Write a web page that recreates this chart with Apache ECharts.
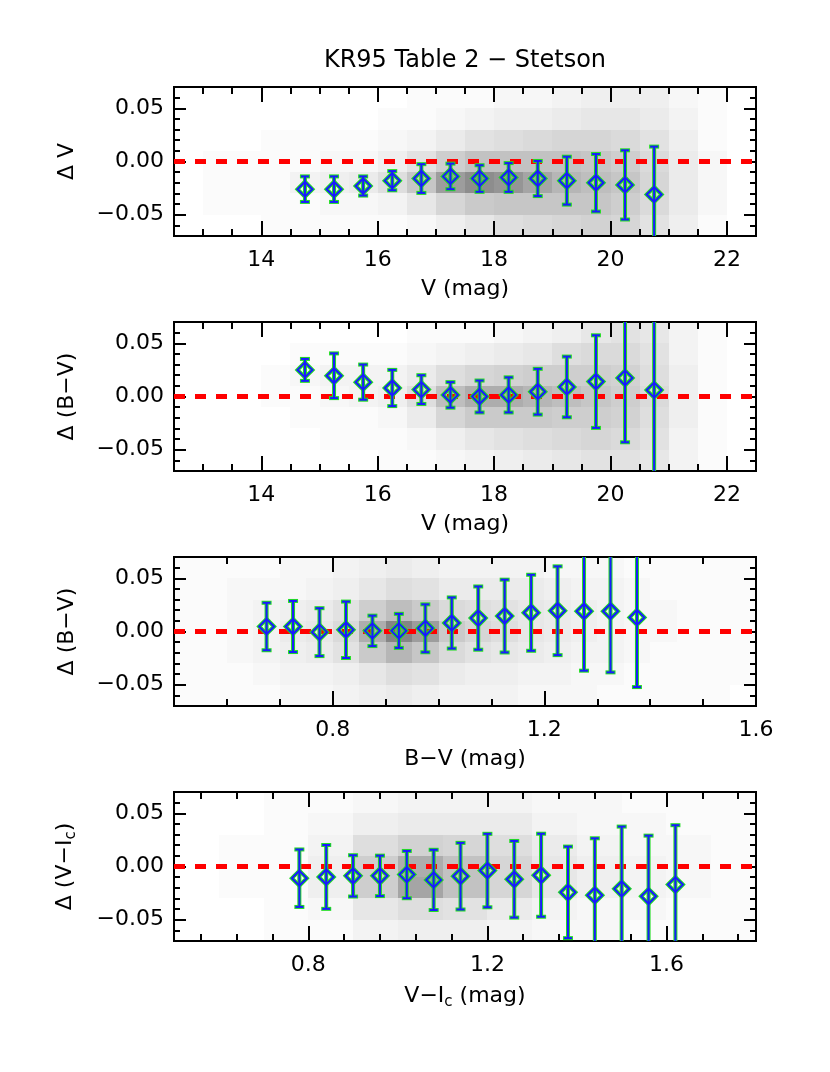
<!DOCTYPE html>
<html>
<head>
<meta charset="utf-8">
<script src="https://cdn.jsdelivr.net/npm/echarts@6/dist/echarts.min.js"></script>
<style>
html, body { margin: 0; padding: 0; background: #fff; }
#chart { width: 830px; height: 1072px; }
</style>
</head>
<body>
<div id="chart"></div>
<script>
// ---- binned means (diamonds) and half error bars ----
const vBins = [14.75, 15.25, 15.75, 16.25, 16.75, 17.25, 17.75, 18.25, 18.75, 19.25, 19.75, 20.25, 20.75];
const dVMean = [-0.026, -0.026, -0.023, -0.018, -0.016, -0.014, -0.016, -0.015, -0.016, -0.018, -0.020, -0.022, -0.031];
const dVErr = [0.012, 0.012, 0.009, 0.009, 0.0135, 0.012, 0.0125, 0.0135, 0.0165, 0.0225, 0.027, 0.0325, 0.045];

const dBVMeanByV = [0.025, 0.0195, 0.0135, 0.008, 0.0065, 0.0015, 0.000, 0.0015, 0.0045, 0.009, 0.014, 0.0175, 0.006];
const dBVErrByV = [0.0103, 0.021, 0.0165, 0.017, 0.0135, 0.012, 0.015, 0.0165, 0.0215, 0.0285, 0.0435, 0.0605, 0.09];

const bvBins = [0.675, 0.725, 0.775, 0.825, 0.875, 0.925, 0.975, 1.025, 1.075, 1.125, 1.175, 1.225, 1.275, 1.325, 1.375];
const dBVMean = [0.0047, 0.0047, -0.0006, 0.0016, 0.0006, 0.0006, 0.003, 0.008, 0.0126, 0.0145, 0.0176, 0.0195, 0.019, 0.019, 0.0132];
const dBVErr = [0.0223, 0.024, 0.0225, 0.0265, 0.0143, 0.016, 0.0225, 0.024, 0.0297, 0.0342, 0.0357, 0.0417, 0.0558, 0.0574, 0.0654];

const viBins = [0.78, 0.84, 0.90, 0.96, 1.02, 1.08, 1.14, 1.20, 1.26, 1.32, 1.38, 1.44, 1.50, 1.56, 1.62];
const dVIMean = [-0.011, -0.0098, -0.0088, -0.0088, -0.0076, -0.0126, -0.0091, -0.0038, -0.012, -0.0082, -0.0243, -0.027, -0.021, -0.028, -0.017];
const dVIErr = [0.027, 0.030, 0.0194, 0.019, 0.0222, 0.0283, 0.0313, 0.0345, 0.036, 0.039, 0.043, 0.0535, 0.0585, 0.057, 0.0558];

// ---- star cloud, estimated as % of area covered by dots per cell ----
const cloudRowEdges = [0.07, 0.05, 0.03, 0.01, -0.01, -0.03, -0.05, -0.07];
const cloudVEdges = [12.5, 13, 13.5, 14, 14.5, 15, 15.5, 16, 16.5, 17, 17.5, 18, 18.5, 19, 19.5, 20, 20.5, 21, 21.5, 22, 22.5];
const cloudDV = [
  [0, 0, 0, 0, 0, 0, 0, 0, 1, 1, 1, 2, 2, 3, 4, 4, 4, 2, 1, 0],
  [0, 0, 0, 0, 0, 0, 0, 1, 1, 2, 3, 4, 4, 5, 6, 6, 5, 3, 1, 0],
  [0, 0, 0, 1, 1, 1, 1, 2, 3, 5, 7, 8, 9, 10, 10, 9, 7, 4, 1, 0],
  [0, 1, 1, 1, 1, 2, 2, 4, 7, 12, 15, 15, 15, 15, 14, 12, 9, 5, 2, 0],
  [0, 1, 1, 1, 3, 4, 5, 8, 14, 24, 28, 26, 22, 18, 16, 14, 10, 5, 2, 0],
  [0, 1, 1, 1, 1, 2, 2, 3, 6, 10, 13, 14, 14, 14, 14, 12, 9, 5, 2, 0],
  [0, 0, 0, 1, 1, 1, 1, 1, 2, 4, 6, 8, 9, 10, 11, 10, 7, 4, 1, 0]
];
const cloudDBVByV = [
  [0, 0, 0, 0, 0, 0, 0, 0, 1, 1, 1, 2, 3, 4, 6, 7, 6, 3, 1, 0],
  [0, 0, 0, 0, 1, 1, 1, 1, 2, 3, 4, 5, 6, 8, 9, 9, 7, 3, 1, 0],
  [0, 0, 0, 1, 2, 3, 3, 3, 5, 8, 10, 11, 12, 12, 12, 11, 8, 4, 1, 0],
  [0, 0, 0, 1, 1, 2, 3, 4, 8, 16, 20, 20, 18, 16, 14, 12, 9, 4, 1, 0],
  [0, 0, 0, 0, 1, 1, 1, 2, 5, 10, 13, 13, 13, 12, 12, 11, 8, 4, 1, 0],
  [0, 0, 0, 0, 0, 1, 1, 1, 2, 4, 6, 7, 8, 9, 10, 9, 7, 3, 1, 0],
  [0, 0, 0, 0, 0, 0, 0, 1, 1, 2, 3, 4, 5, 6, 7, 7, 6, 3, 1, 0]
];
const cloudBVEdges = [0.5, 0.55, 0.6, 0.65, 0.7, 0.75, 0.8, 0.85, 0.9, 0.95, 1.0, 1.05, 1.1, 1.15, 1.2, 1.25, 1.3, 1.35, 1.4, 1.45, 1.5, 1.55, 1.6];
const cloudDBV = [
  [1, 1, 1, 1, 2, 2, 3, 4, 5, 4, 3, 3, 3, 3, 2, 2, 2, 1, 1, 1, 1, 1],
  [1, 1, 2, 2, 2, 3, 4, 6, 8, 7, 5, 5, 5, 5, 4, 3, 3, 2, 1, 1, 1, 1],
  [1, 1, 2, 3, 4, 5, 7, 12, 16, 13, 9, 8, 7, 6, 5, 4, 3, 2, 2, 1, 1, 1],
  [1, 1, 2, 3, 5, 6, 9, 20, 30, 24, 13, 10, 8, 6, 5, 4, 3, 2, 2, 1, 1, 1],
  [1, 1, 2, 3, 4, 5, 7, 13, 18, 14, 9, 7, 6, 5, 4, 3, 3, 2, 1, 1, 1, 1],
  [1, 1, 1, 2, 3, 3, 4, 6, 8, 7, 5, 4, 4, 3, 3, 2, 2, 1, 1, 1, 1, 1],
  [1, 1, 1, 1, 2, 2, 3, 4, 5, 4, 3, 3, 3, 2, 2, 2, 1, 1, 1, 1, 1, 0]
];
const cloudVIEdges = [0.5, 0.6, 0.7, 0.8, 0.9, 1.0, 1.1, 1.2, 1.3, 1.4, 1.5, 1.6, 1.7, 1.8];
const cloudDVI = [
  [0, 0, 1, 1, 2, 3, 3, 3, 2, 2, 1, 1, 1],
  [0, 0, 1, 2, 4, 5, 5, 5, 3, 2, 2, 1, 1],
  [0, 1, 1, 3, 8, 11, 10, 8, 5, 3, 2, 2, 1],
  [0, 1, 1, 4, 12, 20, 15, 10, 6, 4, 3, 2, 1],
  [0, 1, 1, 4, 12, 22, 15, 10, 6, 4, 3, 2, 1],
  [0, 0, 1, 2, 6, 8, 7, 5, 3, 2, 2, 1, 1],
  [0, 0, 1, 1, 3, 4, 4, 3, 2, 2, 1, 1, 1]
];

// ---- axis ranges and ticks ----
const vRange = [12.5, 22.5];
const vMajor = [14, 16, 18, 20, 22];
const vMinor = [13, 13.5, 14.5, 15, 15.5, 16.5, 17, 17.5, 18.5, 19, 19.5, 20.5, 21, 21.5];
const bvRange = [0.5, 1.6];
const bvMajor = [0.8, 1.2, 1.6];
const bvMinor = [0.6, 0.7, 0.9, 1.0, 1.1, 1.3, 1.4, 1.5];
const viRange = [0.5, 1.8];
const viMajor = [0.8, 1.2, 1.6];
const viMinor = [0.56, 0.64, 0.72, 0.88, 0.96, 1.04, 1.12, 1.28, 1.36, 1.44, 1.52, 1.68, 1.76];
const dRange = [-0.07, 0.07];
const dMajor = [-0.05, 0, 0.05];
const dMinor = [-0.06, -0.04, -0.03, -0.02, -0.01, 0.01, 0.02, 0.03, 0.04, 0.06];

const FONT = 'DejaVu Sans';
const GREEN = '#22dd22';
const BLUE = '#1a1aff';
const CLOUD_GAIN = 1.6; // dots look darker than their raw coverage

const panels = [
  { bins: vBins, mean: dVMean, err: dVErr, cloud: cloudDV, cloudX: cloudVEdges,
    xRange: vRange, xMajor: vMajor, xMinor: vMinor, xDec: 0,
    xName: 'V (mag)', yName: 'Δ V' },
  { bins: vBins, mean: dBVMeanByV, err: dBVErrByV, cloud: cloudDBVByV, cloudX: cloudVEdges,
    xRange: vRange, xMajor: vMajor, xMinor: vMinor, xDec: 0,
    xName: 'V (mag)', yName: 'Δ (B−V)' },
  { bins: bvBins, mean: dBVMean, err: dBVErr, cloud: cloudDBV, cloudX: cloudBVEdges,
    xRange: bvRange, xMajor: bvMajor, xMinor: bvMinor, xDec: 1,
    xName: 'B−V (mag)', yName: 'Δ (B−V)' },
  { bins: viBins, mean: dVIMean, err: dVIErr, cloud: cloudDVI, cloudX: cloudVIEdges,
    xRange: viRange, xMajor: viMajor, xMinor: viMinor, xDec: 1,
    xName: '{n|V−I}{sub|c}{n| (mag)}', yName: '{n|Δ (V−I}{sub|c}{n|)}' }
];

const nameStyle = {
  color: '#000', fontSize: 22, fontFamily: FONT,
  rich: {
    n: { fontSize: 22, fontFamily: FONT, color: '#000', lineHeight: 26 },
    sub: { fontSize: 15, fontFamily: FONT, color: '#000', lineHeight: 26, padding: [12, 0, 0, 0] }
  }
};

function axis(gi, pos, range, ticks, len, label, extra) {
  return Object.assign({
    gridIndex: gi, type: 'value', position: pos, min: range[0], max: range[1],
    splitLine: { show: false },
    axisLine: { show: true, onZero: false, lineStyle: { color: '#000', width: 2 } },
    axisTick: { show: true, inside: true, length: len, customValues: ticks, lineStyle: { color: '#000', width: 2 } },
    axisLabel: label || { show: false }
  }, extra || {});
}

const grids = [], xAxes = [], yAxes = [], series = [];
panels.forEach((p, i) => {
  grids.push({ left: 174, width: 582, top: 87 + 235 * i, height: 149, outerBoundsMode: 'none' });
  const xLab = {
    show: true, customValues: p.xMajor, margin: 13, color: '#000', fontSize: 22, fontFamily: FONT,
    formatter: (v) => v.toFixed(p.xDec)
  };
  const yLab = {
    show: true, customValues: dMajor, margin: 10, color: '#000', fontSize: 22, fontFamily: FONT,
    formatter: (v) => (v < -1e-9 ? '\u2212' : '') + Math.abs(v).toFixed(2)
  };
  xAxes.push(axis(i, 'bottom', p.xRange, p.xMajor, 15, xLab,
    { name: p.xName, nameLocation: 'middle', nameGap: 42, nameTextStyle: nameStyle }));
  xAxes.push(axis(i, 'bottom', p.xRange, p.xMinor, 7));
  xAxes.push(axis(i, 'top', p.xRange, p.xMajor, 15));
  xAxes.push(axis(i, 'top', p.xRange, p.xMinor, 7));
  yAxes.push(axis(i, 'left', dRange, dMajor, 12, yLab,
    { name: p.yName, nameLocation: 'middle', nameGap: 96, nameTextStyle: nameStyle }));
  yAxes.push(axis(i, 'left', dRange, dMinor, 6));
  yAxes.push(axis(i, 'right', dRange, dMajor, 12));
  yAxes.push(axis(i, 'right', dRange, dMinor, 6));

  // star cloud cells
  const cells = [];
  p.cloud.forEach((row, r) => {
    row.forEach((pct, c) => {
      if (pct > 0) cells.push([p.cloudX[c], p.cloudX[c + 1], cloudRowEdges[r], cloudRowEdges[r + 1], pct]);
    });
  });
  series.push({
    type: 'custom', xAxisIndex: 4 * i, yAxisIndex: 4 * i, silent: true, clip: true, z: 1,
    data: cells,
    renderItem: (params, api) => {
      const a = api.coord([api.value(0), api.value(2)]);
      const b = api.coord([api.value(1), api.value(3)]);
      const x0 = Math.round(a[0]), y0 = Math.round(a[1]);
      const x1 = Math.round(b[0]), y1 = Math.round(b[1]);
      const alpha = Math.min(0.6, api.value(4) / 100 * CLOUD_GAIN);
      return {
        type: 'rect', shape: { x: x0, y: y0, width: x1 - x0, height: y1 - y0 },
        style: { fill: 'rgba(0,0,0,' + alpha + ')' }
      };
    }
  });

  // zero line
  series.push({
    type: 'line', xAxisIndex: 4 * i, yAxisIndex: 4 * i, silent: true, z: 2,
    data: [[p.xRange[0], 0], [p.xRange[1], 0]], symbol: 'none',
    lineStyle: { color: '#ff0000', width: 5, type: [11, 10] }
  });

  // diamonds with error bars
  series.push({
    type: 'custom', xAxisIndex: 4 * i, yAxisIndex: 4 * i, silent: true, clip: true, z: 3,
    data: p.bins.map((x, k) => [x, p.mean[k], p.err[k]]),
    renderItem: (params, api) => {
      const x = api.value(0), m = api.value(1), e = api.value(2);
      const c = api.coord([x, m]);
      const hi = api.coord([x, m + e])[1];
      const lo = api.coord([x, m - e])[1];
      const d = 7.5;
      const pts = [[c[0], c[1] - d], [c[0] + d, c[1]], [c[0], c[1] + d], [c[0] - d, c[1]]];
      const parts = [];
      [[GREEN, 4, 5], [BLUE, 2, 4]].forEach(([col, w, cap]) => {
        parts.push({ type: 'line', shape: { x1: c[0], y1: hi, x2: c[0], y2: lo }, style: { stroke: col, lineWidth: w } });
        parts.push({ type: 'line', shape: { x1: c[0] - cap, y1: hi, x2: c[0] + cap, y2: hi }, style: { stroke: col, lineWidth: w } });
        parts.push({ type: 'line', shape: { x1: c[0] - cap, y1: lo, x2: c[0] + cap, y2: lo }, style: { stroke: col, lineWidth: w } });
        parts.push({ type: 'polygon', shape: { points: pts }, style: { fill: 'none', stroke: col, lineWidth: w } });
      });
      return { type: 'group', children: parts };
    }
  });
});

const chart = echarts.init(document.getElementById('chart'), null, { renderer: 'canvas' });
chart.setOption({
  animation: false,
  backgroundColor: '#fff',
  graphic: [{
    type: 'text', x: 465, y: 61, silent: true,
    style: { text: 'KR95 Table 2 − Stetson', fill: '#000', fontSize: 24, fontFamily: FONT, align: 'center', verticalAlign: 'middle' }
  }],
  grid: grids,
  xAxis: xAxes,
  yAxis: yAxes,
  series: series
});
</script>
</body>
</html>
